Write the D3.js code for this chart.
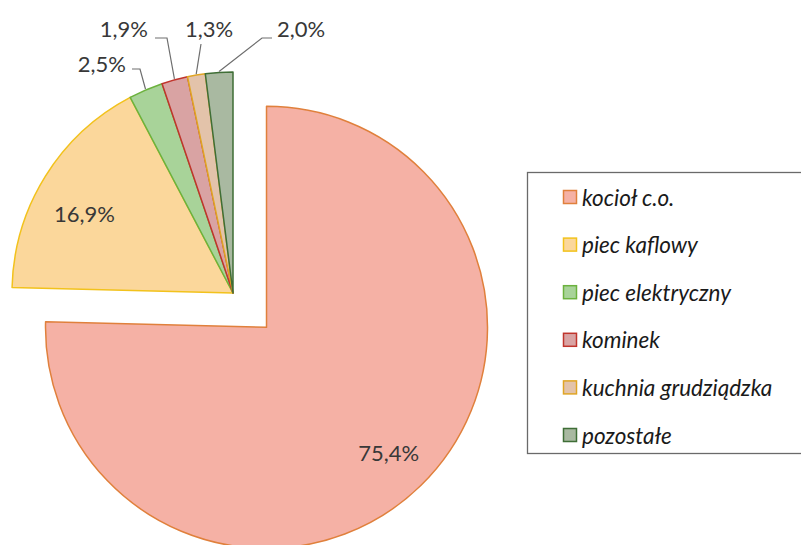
<!DOCTYPE html>
<html><head><meta charset="utf-8">
<script src="https://cdn.jsdelivr.net/npm/d3@7"></script>
<style>html,body{margin:0;padding:0;background:#fff;overflow:hidden}</style>
</head><body>
<svg id="chart" width="801" height="545"></svg>
<script>
const categories = ["kocioł c.o.", "piec kaflowy", "piec elektryczny", "kominek", "kuchnia grudziądzka", "pozostałe"];
const values = [75.4, 16.9, 2.5, 1.9, 1.3, 2.0];
const labels = ["75,4%", "16,9%", "2,5%", "1,9%", "1,3%", "2,0%"];
const fills = ["#f5b1a5", "#fbd79b", "#a8d399", "#d9a3a3", "#e3c3aa", "#a9b9a1"];
const strokes = ["#e0803c", "#f2c21c", "#6cb23e", "#c0342c", "#e0a524", "#3f6e36"];

const svg = d3.select("#chart");
const cx = 233, cy = 293, R = 221;
const explode = [48, 0, 0, 0, 0, 0];

const pie = d3.pie().sort(null).value(d => d).startAngle(0).endAngle(2 * Math.PI);
const arcs = pie(values);
const arc = d3.arc().innerRadius(0).outerRadius(R);
const labelArc = d3.arc().innerRadius(175).outerRadius(175);

const g = svg.append("g").attr("transform", `translate(${cx},${cy})`);
function off(d, i) {
  const a = (d.startAngle + d.endAngle) / 2;
  return [Math.sin(a) * explode[i], -Math.cos(a) * explode[i]];
}
g.selectAll("path.slice").data(arcs).join("path")
  .attr("class", "slice")
  .attr("d", arc)
  .attr("transform", (d, i) => { const o = off(d, i); return `translate(${o[0]},${o[1]})`; })
  .attr("fill", (d, i) => fills[i])
  .attr("stroke", (d, i) => strokes[i])
  .attr("stroke-width", 1.5)
  .attr("stroke-linejoin", "round");

const font = "Lato, 'Open Sans', sans-serif";
const lsize = 22;
// inside labels
[0, 1].forEach(i => {
  const d = arcs[i];
  const o = off(d, i);
  const c = labelArc.centroid(d);
  const dy = i === 1 ? 13 : 0;
  g.append("text")
    .attr("x", c[0] + o[0]).attr("y", c[1] + o[1] + dy)
    .attr("text-anchor", "middle").attr("dominant-baseline", "central")
    .attr("font-family", font).attr("font-size", lsize).attr("fill", "#383838")
    .text(labels[i]);
});

// outside labels with leader lines (layout: elbow offset and text side)
const outside = {
  2: { elbow: [-93, -224], end: [-101, -224], anchor: "end", tx: -107, ty: -230 },
  3: { elbow: [-66, -255], end: [-78, -255], anchor: "end", tx: -85, ty: -265 },
  4: { elbow: [-32, -249], end: [-32, -249], anchor: "middle", tx: -24, ty: -265 },
  5: { elbow: [29, -255], end: [39, -255], anchor: "start", tx: 44, ty: -265 }
};
const edgeArc = d3.arc().innerRadius(R + 1).outerRadius(R + 1);
Object.keys(outside).forEach(k => {
  const i = +k, L = outside[k];
  const p = edgeArc.centroid(arcs[i]);
  g.append("polyline")
    .attr("points", [p, L.elbow, L.end].map(q => q.join(",")).join(" "))
    .attr("fill", "none").attr("stroke", "#6e6e6e").attr("stroke-width", 1.2);
  g.append("text")
    .attr("x", L.tx).attr("y", L.ty)
    .attr("text-anchor", L.anchor).attr("dominant-baseline", "central")
    .attr("font-family", font).attr("font-size", lsize).attr("fill", "#383838")
    .text(labels[i]);
});

// legend
const lg = svg.append("g");
lg.append("rect").attr("x", 527.5).attr("y", 172.5).attr("width", 300).attr("height", 281)
  .attr("fill", "none").attr("stroke", "#6a6a6a").attr("stroke-width", 1.3);
const ly = d3.scalePoint().domain(categories).range([197, 435]);
const items = lg.selectAll("g.item").data(categories).join("g").attr("class", "item")
  .attr("transform", d => `translate(563,${ly(d)})`);
items.append("rect").attr("x", 0.5).attr("y", -6.5).attr("width", 13).attr("height", 13)
  .attr("fill", (d, i) => fills[i]).attr("stroke", (d, i) => strokes[i]).attr("stroke-width", 1.5);
items.append("text").attr("x", 19).attr("y", 0).attr("dominant-baseline", "central")
  .attr("font-family", font).attr("font-style", "italic").attr("font-size", 22.5).attr("fill", "#1a1a1a")
  .text(d => d);
</script>
</body></html>
